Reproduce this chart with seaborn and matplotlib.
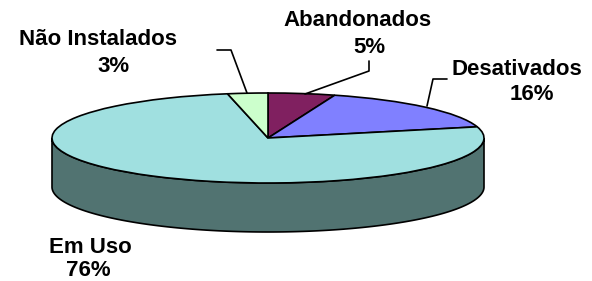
import numpy as np
import matplotlib
matplotlib.use("Agg")
import matplotlib.pyplot as plt
import seaborn as sns
from matplotlib.lines import Line2D

# Data
categories = ["Abandonados", "Desativados", "Em Uso", "Não Instalados"]
values = [5, 16, 76, 3]
pct_labels = ["5%", "16%", "76%", "3%"]
colors = ["#802060", "#8080FF", "#A0E0E0", "#CCFFCC"]
side_color = "#517371"

sns.set_theme(style="white")
plt.rcParams["font.family"] = ["Liberation Sans", "DejaVu Sans"]

W, H = 592, 281
fig = plt.figure(figsize=(W / 100, H / 100), dpi=100)
ax = fig.add_axes([0, 0, 1, 1])

# geometry of projected pie (pixels)
cx, cy, a, b = 268, 138, 216, 45
depth = 49 / b

wedges, _ = ax.pie(values, colors=colors, startangle=90, counterclock=False,
                   radius=1, center=(0, 0),
                   wedgeprops=dict(edgecolor="black", linewidth=1.2))
for w in wedges:
    w.set_zorder(2)

# 3D side of front part (Em Uso)
t = np.linspace(np.pi, 2 * np.pi, 200)
xs = np.concatenate([np.cos(t), np.cos(t[::-1])])
ys = np.concatenate([np.sin(t), np.sin(t[::-1]) - depth])
ax.fill(xs, ys, facecolor=side_color, edgecolor="black", linewidth=1.2, zorder=1)

ax.set_aspect("auto")
ax.set_xlim(-cx / a, (W - cx) / a)
ax.set_ylim((cy - H) / b, cy / b)
ax.axis("off")

def fx(px):
    return px / W

def fy(py):
    return 1 - py / H

# labels: (name, name center x, baseline y, pct center x, baseline y)
label_pos = {
    "Não Instalados": (98, 45, 114, 72),
    "Abandonados": (357, 26, 369, 53),
    "Desativados": (517, 75, 532, 100),
    "Em Uso": (90, 253, 88, 276),
}
for cat, pct in zip(categories, pct_labels):
    x1, y1, x2, y2 = label_pos[cat]
    fig.text(fx(x1), fy(y1), cat, ha="center", va="baseline",
             fontsize=16, fontweight="bold", color="black")
    fig.text(fx(x2), fy(y2), pct, ha="center", va="baseline",
             fontsize=16, fontweight="bold", color="black")

leaders = [
    [(217, 50), (231, 50), (247, 93)],
    [(369, 61), (369, 71), (305, 94)],
    [(447, 79), (433, 79), (427, 106)],
]
for pts in leaders:
    xs_ = [fx(p[0]) for p in pts]
    ys_ = [fy(p[1]) for p in pts]
    fig.add_artist(Line2D(xs_, ys_, transform=fig.transFigure,
                          color="black", linewidth=1.2, zorder=5))

fig.savefig("out.png", dpi=100)
